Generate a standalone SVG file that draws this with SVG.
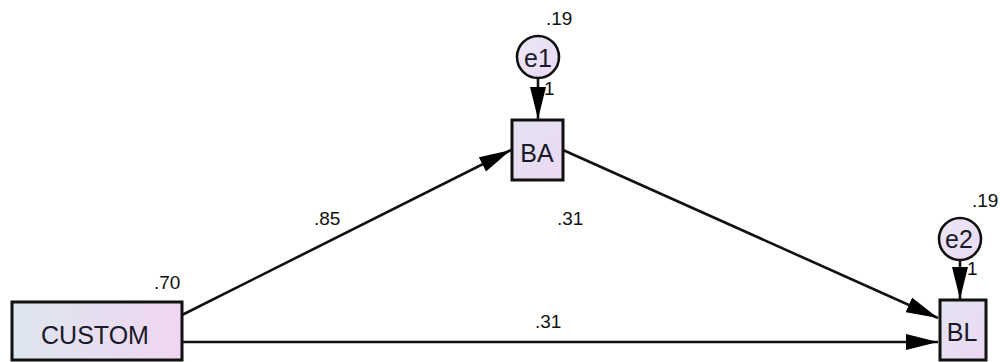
<svg xmlns="http://www.w3.org/2000/svg" width="1000" height="362" viewBox="0 0 1000 362">
  <defs>
    <linearGradient id="boxFill" x1="0" y1="0" x2="1" y2="1">
      <stop offset="0" stop-color="#e4e3f3"/>
      <stop offset="1" stop-color="#ecd8f2"/>
    </linearGradient>
    <linearGradient id="wideFill" x1="0" y1="0" x2="1" y2="0">
      <stop offset="0" stop-color="#dde6ee"/>
      <stop offset="1" stop-color="#f0d6f2"/>
    </linearGradient>
    <linearGradient id="circFill" x1="0" y1="0" x2="1" y2="1">
      <stop offset="0" stop-color="#ece8f6"/>
      <stop offset="1" stop-color="#e8d8f2"/>
    </linearGradient>
    <marker id="arrow" viewBox="0 0 32 16" refX="32" refY="8" markerWidth="32" markerHeight="16" markerUnits="userSpaceOnUse" orient="auto">
      <path d="M0,0 L32,8 L0,16 Z" fill="#000"/>
    </marker>
  </defs>
  <style>
    .box { stroke: #111; stroke-width: 3; }
    .circ { stroke: #111; stroke-width: 2.6; fill: url(#circFill); }
    .edge { stroke: #111; stroke-width: 2.6; fill: none; marker-end: url(#arrow); }
    .lbl { font-family: "Liberation Sans", Arial, sans-serif; font-size: 25px; fill: #1a1a2a; text-anchor: middle; dominant-baseline: central; }
    .num { font-family: "Liberation Sans", Arial, sans-serif; font-size: 19px; fill: #111; }
  </style>

  <!-- regression paths and their weights -->
  <g id="connectors">
    <line class="edge" x1="182" y1="315" x2="511" y2="150"/>
    <line class="edge" x1="563" y1="150" x2="938" y2="318"/>
    <line class="edge" x1="182" y1="342" x2="938" y2="342"/>
    <line class="edge" x1="538" y1="78" x2="538" y2="119"/>
    <line class="edge" x1="960" y1="260" x2="960" y2="299"/>
    <text class="num" x="314" y="225">.85</text>
    <text class="num" x="557" y="225">.31</text>
    <text class="num" x="535" y="328">.31</text>
    <text class="num" x="544" y="95">1</text>
    <text class="num" x="967" y="275">1</text>
  </g>

  <!-- observed variables -->
  <g id="node-custom">
    <rect class="box" x="12" y="302" width="170" height="58" fill="url(#wideFill)"/>
    <text class="lbl" x="95" y="335">CUSTOM</text>
    <text class="num" x="154" y="289">.70</text>
  </g>

  <g id="node-ba">
    <rect class="box" x="512" y="120" width="51" height="60" fill="url(#boxFill)"/>
    <text class="lbl" x="537" y="153">BA</text>
  </g>

  <g id="node-bl">
    <rect class="box" x="940" y="300" width="46" height="60" fill="url(#boxFill)"/>
    <text class="lbl" x="962" y="332">BL</text>
  </g>

  <!-- error terms -->
  <g id="node-e1">
    <circle class="circ" cx="538" cy="57" r="21"/>
    <text class="lbl" x="538" y="58">e1</text>
    <text class="num" x="546" y="25">.19</text>
  </g>

  <g id="node-e2">
    <circle class="circ" cx="960" cy="239" r="21"/>
    <text class="lbl" x="959" y="239">e2</text>
    <text class="num" x="972" y="207">.19</text>
  </g>
</svg>
